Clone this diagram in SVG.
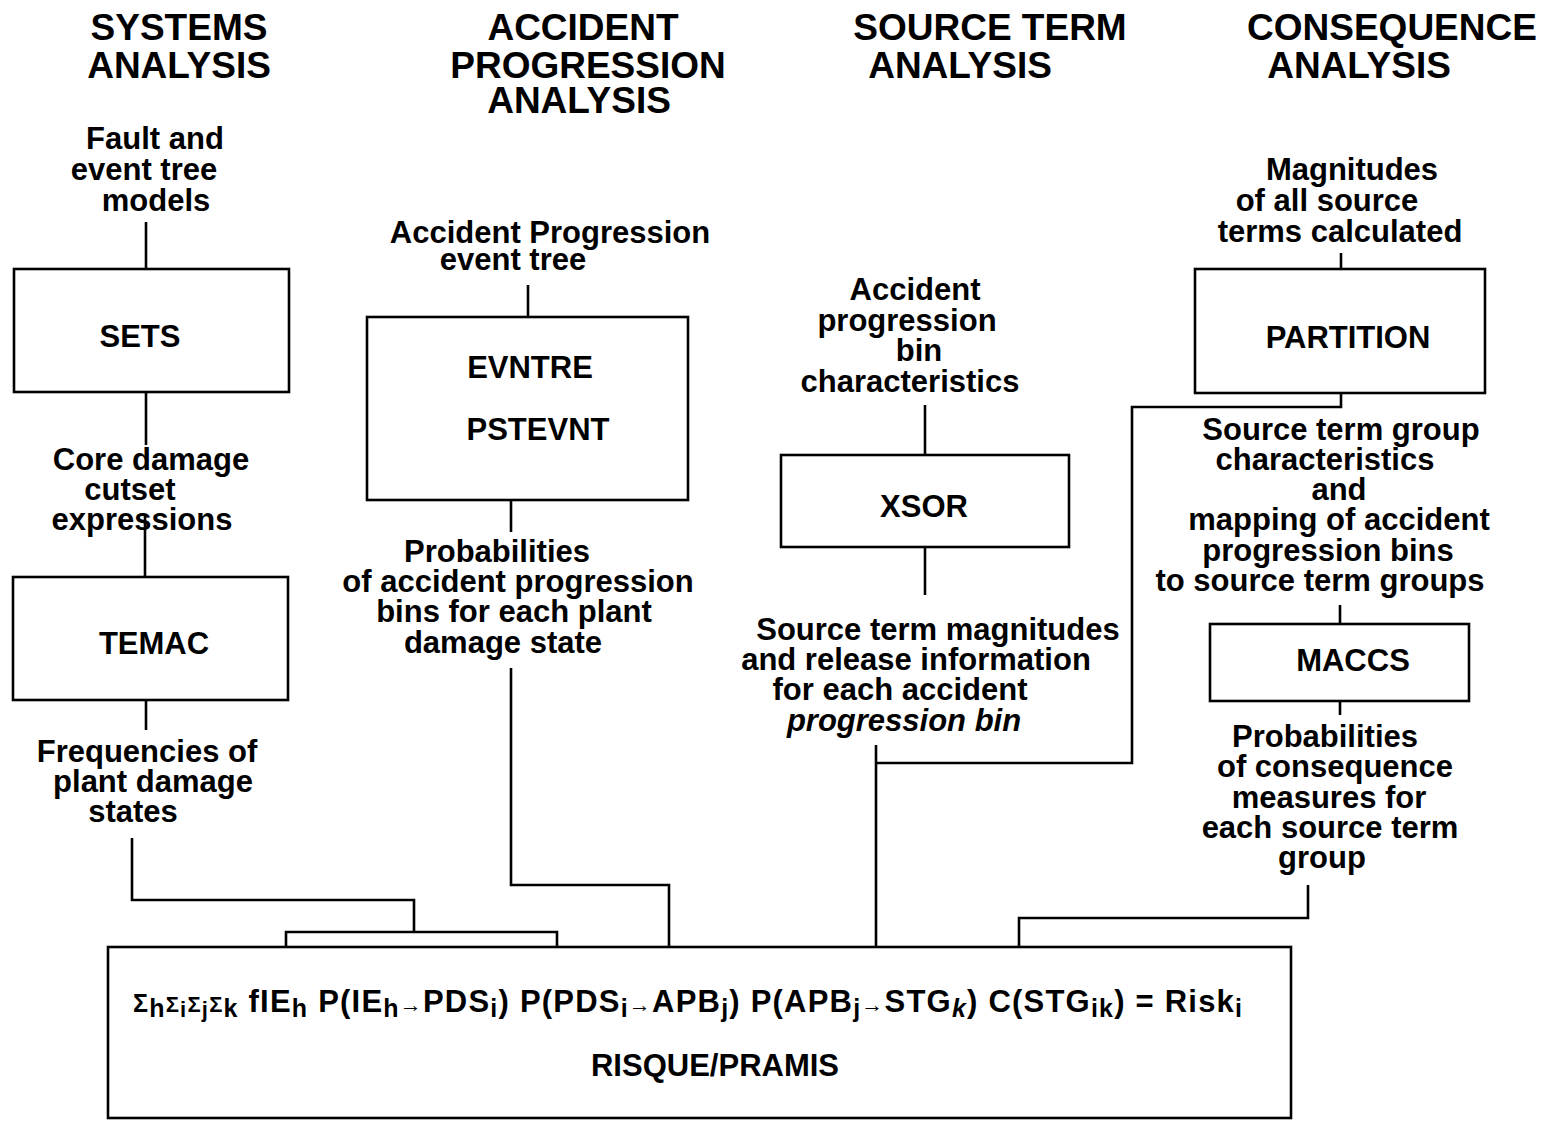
<svg xmlns="http://www.w3.org/2000/svg" width="1541" height="1121" viewBox="0 0 1541 1121">
<style>
text{font-family:"Liberation Sans",Arial,Helvetica,sans-serif;font-weight:bold;fill:#000;text-anchor:middle}
.h{font-size:37px}
.t{font-size:31px}
.b{font-size:31px}
.f{font-size:31px;text-anchor:start}
.s{font-size:25px}
.a{font-size:22px}
.box{fill:#fff;stroke:#000;stroke-width:2.6}
.c{fill:none;stroke:#000;stroke-width:2.6}
</style>
<rect width="1541" height="1121" fill="#fff"/>
<g id="headers">
<text class="h" x="179" y="40">SYSTEMS</text>
<text class="h" x="179" y="78">ANALYSIS</text>
<text class="h" x="583" y="40">ACCIDENT</text>
<text class="h" x="588" y="78">PROGRESSION</text>
<text class="h" x="579" y="113">ANALYSIS</text>
<text class="h" x="990" y="40">SOURCE TERM</text>
<text class="h" x="960" y="78">ANALYSIS</text>
<text class="h" x="1392" y="40">CONSEQUENCE</text>
<text class="h" x="1359" y="78">ANALYSIS</text>
</g>
<g id="connectors">
<path class="c" d="M146 222V269"/>
<path class="c" d="M146 392V445"/>
<path class="c" d="M145 514V577"/>
<path class="c" d="M146 700V730"/>
<path class="c" d="M132 838V900H414V932"/>
<path class="c" d="M286 965V932H557V965"/>
<path class="c" d="M528 285V317"/>
<path class="c" d="M511 500V532"/>
<path class="c" d="M511 668V885H669V965"/>
<path class="c" d="M925 405V455"/>
<path class="c" d="M925 547V595"/>
<path class="c" d="M876 745V965"/>
<path class="c" d="M1341 393V407H1132V763H876"/>
<path class="c" d="M1341 253V269"/>
<path class="c" d="M1340 605V624"/>
<path class="c" d="M1340 701V715"/>
<path class="c" d="M1308 885V918H1019V965"/>
</g>
<g id="sets"><rect class="box" x="14" y="269" width="275" height="123"/><text class="b" x="140" y="347">SETS</text></g>
<g id="temac"><rect class="box" x="13" y="577" width="275" height="123"/><text class="b" x="154" y="654">TEMAC</text></g>
<g id="evntre"><rect class="box" x="367" y="317" width="321" height="183"/><text class="b" x="530" y="378">EVNTRE</text><text class="b" x="538" y="440">PSTEVNT</text></g>
<g id="xsor"><rect class="box" x="781" y="455" width="288" height="92"/><text class="b" x="924" y="517">XSOR</text></g>
<g id="partition"><rect class="box" x="1195" y="269" width="290" height="124"/><text class="b" x="1348" y="348">PARTITION</text></g>
<g id="maccs"><rect class="box" x="1210" y="624" width="259" height="77"/><text class="b" x="1353" y="671">MACCS</text></g>
<g id="labels">
<text class="t" x="155" y="149">Fault and</text>
<text class="t" x="144" y="180">event tree</text>
<text class="t" x="156" y="211">models</text>
<text class="t" x="151" y="470">Core damage</text>
<text class="t" x="130" y="500">cutset</text>
<text class="t" x="142" y="530">expressions</text>
<text class="t" x="147" y="762">Frequencies of</text>
<text class="t" x="153" y="792">plant damage</text>
<text class="t" x="133" y="822">states</text>
<text class="t" x="550" y="243">Accident Progression</text>
<text class="t" x="513" y="270">event tree</text>
<text class="t" x="497" y="562">Probabilities</text>
<text class="t" x="518" y="592">of accident progression</text>
<text class="t" x="514" y="622">bins for each plant</text>
<text class="t" x="503" y="653">damage state</text>
<text class="t" x="915" y="300">Accident</text>
<text class="t" x="907" y="331">progression</text>
<text class="t" x="919" y="361">bin</text>
<text class="t" x="910" y="392">characteristics</text>
<text class="t" x="938" y="640">Source term magnitudes</text>
<text class="t" x="916" y="670">and release information</text>
<text class="t" x="900" y="700">for each accident</text>
<text class="t" x="904" y="731" font-style="italic">progression bin</text>
<text class="t" x="1352" y="180">Magnitudes</text>
<text class="t" x="1327" y="211">of all source</text>
<text class="t" x="1340" y="242">terms calculated</text>
<text class="t" x="1341" y="440">Source term group</text>
<text class="t" x="1325" y="470">characteristics</text>
<text class="t" x="1339" y="500">and</text>
<text class="t" x="1339" y="530">mapping of accident</text>
<text class="t" x="1328" y="561">progression bins</text>
<text class="t" x="1320" y="591">to source term groups</text>
<text class="t" x="1325" y="747">Probabilities</text>
<text class="t" x="1335" y="777">of consequence</text>
<text class="t" x="1329" y="808">measures for</text>
<text class="t" x="1330" y="838">each source term</text>
<text class="t" x="1322" y="868">group</text>
</g>
<g id="risque">
<rect class="box" x="108" y="947" width="1183" height="171"/>
<text class="f" x="133" y="1012" textLength="1109" lengthAdjust="spacing"><tspan class="s">Σ</tspan><tspan class="s" dy="5">h</tspan><tspan class="a" dy="-5">Σ</tspan><tspan class="a" dy="5">i</tspan><tspan class="a" dy="-5">Σ</tspan><tspan class="a" dy="5">j</tspan><tspan class="a" dy="-5">Σ</tspan><tspan class="s" dy="5">k</tspan><tspan dy="-5"> fIE</tspan><tspan class="s" dy="5">h</tspan><tspan dy="-5"> P(IE</tspan><tspan class="s" dy="5">h</tspan><tspan class="a" dy="-5">→</tspan><tspan>PDS</tspan><tspan class="s" dy="5">i</tspan><tspan dy="-5">) P(PDS</tspan><tspan class="s" dy="5">i</tspan><tspan class="a" dy="-5">→</tspan><tspan>APB</tspan><tspan class="s" dy="5">j</tspan><tspan dy="-5">) P(APB</tspan><tspan class="s" dy="5">j</tspan><tspan class="a" dy="-5">→</tspan><tspan>STG</tspan><tspan class="s" dy="5" font-style="italic">k</tspan><tspan dy="-5">) C(STG</tspan><tspan class="s" dy="5">ik</tspan><tspan dy="-5">) = Risk</tspan><tspan class="s" dy="5">i</tspan></text>
<text class="b" x="715" y="1076" font-size="28">RISQUE/PRAMIS</text>
</g>
</svg>
